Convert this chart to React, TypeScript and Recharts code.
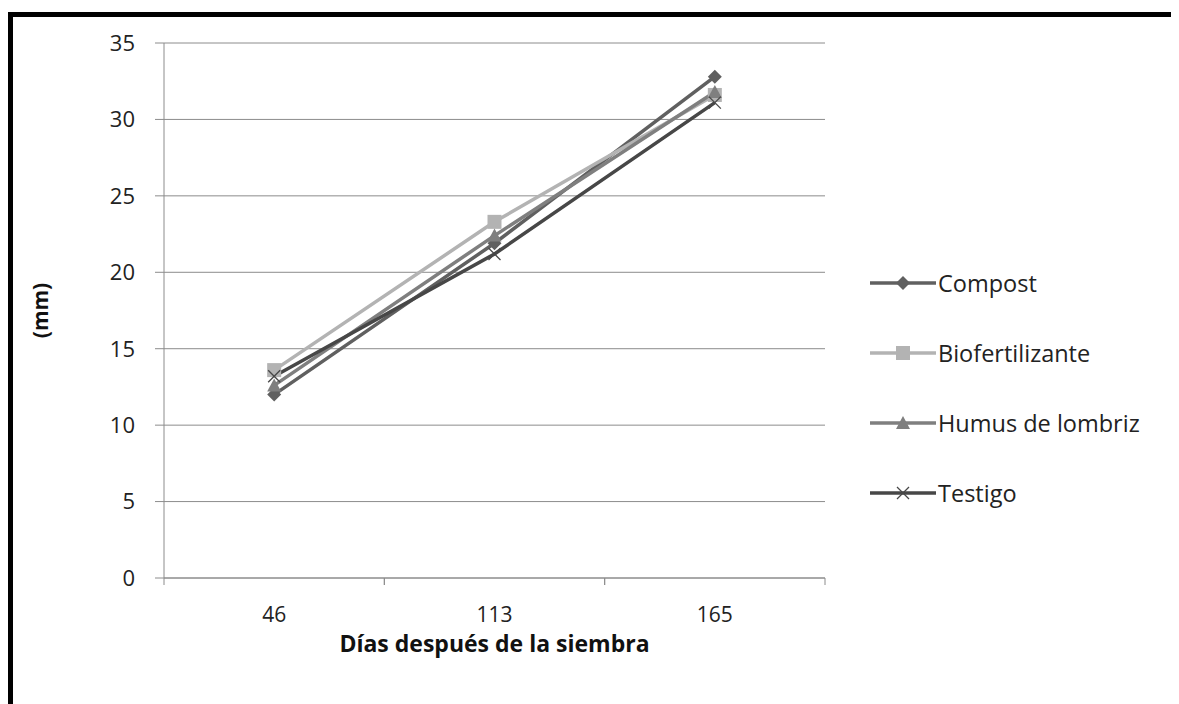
import React from "react";
import { LineChart, Line, XAxis, YAxis, CartesianGrid, Label } from "recharts";

const dias = ["46", "113", "165"];
const compost = [12.0, 21.9, 32.8];
const biofertilizante = [13.6, 23.3, 31.6];
const humus = [12.6, 22.4, 31.8];
const testigo = [13.2, 21.2, 31.1];
const yTicks = [0, 5, 10, 15, 20, 25, 30, 35];

const series = [
  { key: "compost", name: "Compost", color: "#606060", shape: "diamond" },
  { key: "biofertilizante", name: "Biofertilizante", color: "#b3b3b3", shape: "square" },
  { key: "humus", name: "Humus de lombriz", color: "#7f7f7f", shape: "triangle" },
  { key: "testigo", name: "Testigo", color: "#474747", shape: "cross" },
];

const data = dias.map((d, i) => ({
  dia: d,
  compost: compost[i],
  biofertilizante: biofertilizante[i],
  humus: humus[i],
  testigo: testigo[i],
}));

const W = 1166;
const H = 687;
const M = { top: 26, right: 354, bottom: 46, left: 0 };
const Y_W = 151;
const X_H = 80;
const BAND = (W - M.left - M.right - Y_W) / dias.length;
const FONT = "'Open Sans', sans-serif";
const AXIS = "#8c8c8c";

const marker = (shape: string, color: string, cx: number, cy: number, key?: any) => {
  if (shape === "diamond")
    return <polygon key={key} points={`${cx},${cy - 7} ${cx + 7},${cy} ${cx},${cy + 7} ${cx - 7},${cy}`} fill={color} />;
  if (shape === "square")
    return <rect key={key} x={cx - 7} y={cy - 7} width={14} height={14} fill={color} />;
  if (shape === "triangle")
    return <polygon key={key} points={`${cx},${cy - 7} ${cx + 7},${cy + 6} ${cx - 7},${cy + 6}`} fill={color} />;
  return (
    <g key={key}>
      <line x1={cx - 6} y1={cy - 6} x2={cx + 6} y2={cy + 6} stroke={color} strokeWidth={1.3} />
      <line x1={cx - 6} y1={cy + 6} x2={cx + 6} y2={cy - 6} stroke={color} strokeWidth={1.3} />
    </g>
  );
};

const XTick = (props: any) => {
  const { x, y, payload } = props;
  return (
    <g>
      <line x1={x - BAND / 2} y1={y} x2={x - BAND / 2} y2={y + 7} stroke={AXIS} />
      <line x1={x + BAND / 2} y1={y} x2={x + BAND / 2} y2={y + 7} stroke={AXIS} />
      <text x={x} y={y + 44} textAnchor="middle" fontSize={21} fill="#222" fontFamily={FONT}>
        {payload.value}
      </text>
    </g>
  );
};

export default function App() {
  return (
    <div style={{ paddingTop: 4 }}>
      <style>{`body{overflow:hidden}`}</style>
      <div
        style={{
          position: "relative",
          width: W,
          height: H,
          borderTop: "5px solid #000",
          borderLeft: "5px solid #000",
          background: "#fff",
        }}
      >
        <LineChart width={W} height={H} data={data} margin={M}>
          <CartesianGrid vertical={false} stroke={AXIS} strokeWidth={1} />
          <XAxis
            dataKey="dia"
            height={X_H}
            padding={{ left: BAND / 2, right: BAND / 2 }}
            axisLine={{ stroke: AXIS }}
            tickLine={false}
            tickSize={0}
            tickMargin={0}
            tick={<XTick />}
          >
            <Label
              content={(p: any) => {
                const vb = p.viewBox || {};
                return (
                  <text
                    x={(vb.x ?? Y_W) + (vb.width ?? BAND * 3) / 2}
                    y={(vb.y ?? H - M.bottom - X_H) + 74}
                    textAnchor="middle"
                    fontSize={23}
                    fontWeight="bold"
                    fill="#111"
                    fontFamily={FONT}
                  >
                    Días después de la siembra
                  </text>
                );
              }}
            />
          </XAxis>
          <YAxis
            width={Y_W}
            domain={[0, 35]}
            ticks={yTicks}
            interval={0}
            axisLine={{ stroke: AXIS }}
            tickLine={{ stroke: AXIS }}
            tickSize={9}
            tickMargin={20}
            tick={{ fontSize: 22, fill: "#222", fontFamily: FONT }}
          >
            <Label
              content={(p: any) => {
                const vb = p.viewBox || {};
                const cx = (vb.x ?? 0) + 27;
                const cy = (vb.y ?? M.top) + (vb.height ?? 535) / 2;
                return (
                  <text
                    x={cx}
                    y={cy}
                    transform={`rotate(-90 ${cx} ${cy})`}
                    textAnchor="middle"
                    dominantBaseline="central"
                    fontSize={21}
                    fontWeight="bold"
                    fill="#111"
                    fontFamily={FONT}
                  >
                    (mm)
                  </text>
                );
              }}
            />
          </YAxis>
          {series.map((s) => (
            <Line
              key={s.key}
              dataKey={s.key}
              name={s.name}
              stroke={s.color}
              strokeWidth={3.5}
              isAnimationActive={false}
              dot={(p: any) => marker(s.shape, s.color, p.cx, p.cy, `${s.key}-${p.index}`)}
              activeDot={false}
            />
          ))}
        </LineChart>
        <div style={{ position: "absolute", left: 857, top: 231, fontFamily: FONT }}>
          {series.map((s) => (
            <div key={s.key} style={{ display: "flex", alignItems: "center", height: 70 }}>
              <svg width={68} height={20} style={{ display: "block" }}>
                <line x1={0} y1={10} x2={66} y2={10} stroke={s.color} strokeWidth={3.5} />
                {marker(s.shape, s.color, 33, 10)}
              </svg>
              <span style={{ fontSize: 23.5, color: "#222" }}>{s.name}</span>
            </div>
          ))}
        </div>
      </div>
    </div>
  );
}
